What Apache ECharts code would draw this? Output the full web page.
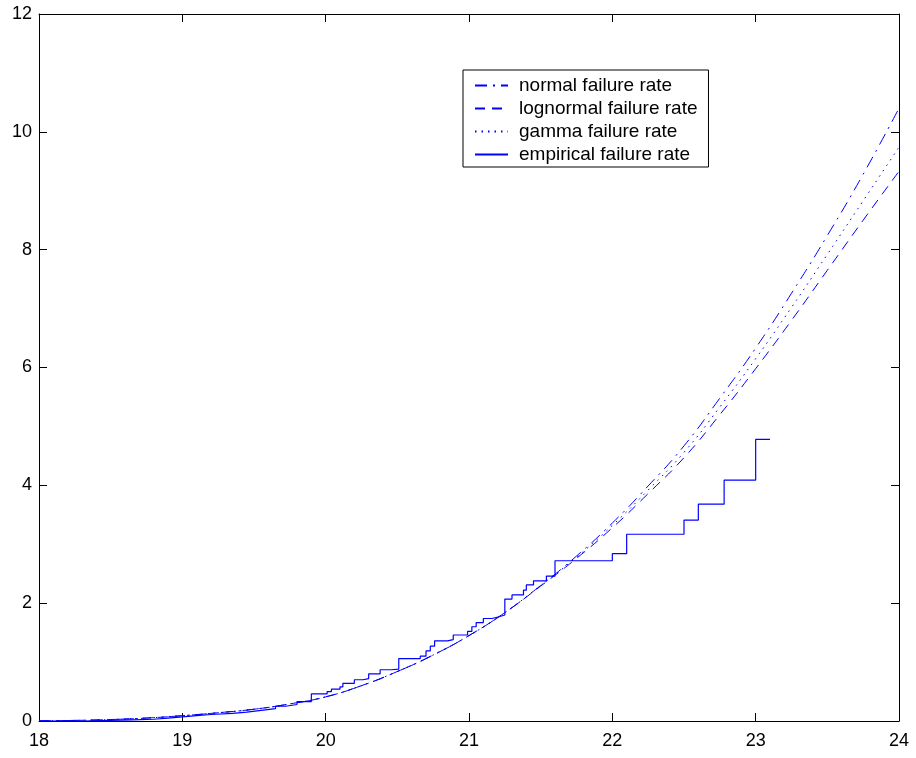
<!DOCTYPE html>
<html>
<head>
<meta charset="utf-8">
<script src="https://cdn.jsdelivr.net/npm/echarts@6/dist/echarts.min.js"></script>
<style>
html,body{margin:0;padding:0;background:#fff;}
#chart{width:916px;height:758px;}
</style>
</head>
<body>
<div id="chart"></div>
<script>
// Smooth fitted hazard curves
const curveX = [18, 18.25, 18.5, 18.75, 19, 19.25, 19.5, 19.75, 20, 20.25, 20.5, 20.75, 21, 21.25, 21.5, 21.75, 22, 22.25, 22.5, 22.75, 23, 23.25, 23.5, 23.75, 24];
const normalRate = [0.003, 0.01, 0.025, 0.05, 0.09, 0.14, 0.20, 0.29, 0.41, 0.60, 0.84, 1.12, 1.45, 1.84, 2.30, 2.80, 3.36, 3.99, 4.67, 5.48, 6.33, 7.26, 8.24, 9.28, 10.4];
const lognormalRate = [0.003, 0.01, 0.025, 0.05, 0.09, 0.14, 0.20, 0.29, 0.41, 0.60, 0.84, 1.12, 1.45, 1.84, 2.29, 2.76, 3.28, 3.86, 4.47, 5.20, 5.98, 6.80, 7.65, 8.50, 9.33];
const gammaRate = [0.003, 0.01, 0.025, 0.05, 0.09, 0.14, 0.20, 0.29, 0.41, 0.60, 0.84, 1.12, 1.45, 1.84, 2.30, 2.78, 3.32, 3.92, 4.56, 5.33, 6.15, 7.02, 7.92, 8.83, 9.74];

// Empirical failure rate: step start positions and levels
const empX = [18.00, 18.30, 18.50, 18.65, 18.80, 18.90, 19.00, 19.10, 19.20, 19.35, 19.45, 19.55, 19.65, 19.72, 19.80, 19.90, 20.01, 20.04, 20.10, 20.12, 20.20, 20.26, 20.30, 20.38, 20.46, 20.51, 20.66, 20.70, 20.73, 20.76, 20.85, 20.89, 20.99, 21.02, 21.05, 21.10, 21.16, 21.21, 21.25, 21.30, 21.38, 21.40, 21.45, 21.54, 21.60, 22.00, 22.10, 22.50, 22.60, 22.78, 23.00, 23.10];
const empY = [0.00, 0.01, 0.02, 0.03, 0.05, 0.07, 0.09, 0.11, 0.13, 0.15, 0.18, 0.21, 0.25, 0.28, 0.33, 0.46, 0.50, 0.54, 0.58, 0.64, 0.70, 0.72, 0.80, 0.87, 0.88, 1.06, 1.10, 1.19, 1.27, 1.36, 1.38, 1.46, 1.52, 1.60, 1.67, 1.74, 1.77, 1.80, 2.07, 2.14, 2.22, 2.31, 2.38, 2.46, 2.72, 2.84, 3.17, 3.41, 3.68, 4.09, 4.78, 4.78];

const xTicks = [18, 19, 20, 21, 22, 23, 24];
const yTicks = [0, 2, 4, 6, 8, 10, 12];

const seriesNames = ['normal failure rate', 'lognormal failure rate', 'gamma failure rate', 'empirical failure rate'];

function pairs(xs, ys) { return xs.map((x, i) => [x, ys[i]]); }

const FONT = '"Liberation Sans", Arial, Helvetica, sans-serif';
const BLUE = '#0000ff';

const chart = echarts.init(document.getElementById('chart'), null, {renderer: 'canvas'});

const axisCommon = {
  type: 'value',
  axisLine: {show: true, onZero: false, lineStyle: {color: '#000', width: 1}},
  axisTick: {show: true, inside: true, length: 8, lineStyle: {color: '#000', width: 1}},
  splitLine: {show: false},
};

chart.setOption({
  animation: false,
  backgroundColor: '#fff',
  grid: {left: 39, right: 17, top: 14, bottom: 37, containLabel: false},
  xAxis: [
    Object.assign({}, axisCommon, {
      position: 'bottom', min: xTicks[0], max: xTicks[xTicks.length - 1], interval: 1,
      axisLabel: {show: true, color: '#000', fontSize: 18, fontFamily: FONT, margin: 11}
    }),
    Object.assign({}, axisCommon, {
      position: 'top', min: xTicks[0], max: xTicks[xTicks.length - 1], interval: 1,
      axisLabel: {show: false}
    })
  ],
  yAxis: [
    Object.assign({}, axisCommon, {
      position: 'left', min: yTicks[0], max: yTicks[yTicks.length - 1], interval: 2,
      axisLabel: {show: true, color: '#000', fontSize: 18, fontFamily: FONT, margin: 7}
    }),
    Object.assign({}, axisCommon, {
      position: 'right', min: yTicks[0], max: yTicks[yTicks.length - 1], interval: 2,
      axisLabel: {show: false}
    })
  ],
  legend: {
    orient: 'vertical',
    left: 463, top: 70,
    padding: [6, 11, 3, 11],
    itemGap: 4,
    itemWidth: 33, itemHeight: 14,
    backgroundColor: '#fff',
    borderColor: '#000', borderWidth: 1, borderRadius: 0,
    itemStyle: {opacity: 0},
    textStyle: {color: '#000', fontSize: 19, fontFamily: FONT, lineHeight: 18, padding: [0, 0, 0, 6]},
    data: seriesNames
  },
  series: [
    {
      name: seriesNames[0], type: 'line', data: pairs(curveX, normalRate), smooth: true,
      symbol: 'none', lineStyle: {color: BLUE, width: 1, type: [12, 6, 2, 6]}, itemStyle: {color: BLUE}, z: 3
    },
    {
      name: seriesNames[1], type: 'line', data: pairs(curveX, lognormalRate), smooth: true,
      symbol: 'none', lineStyle: {color: BLUE, width: 1, type: [10, 7]}, itemStyle: {color: BLUE}, z: 3
    },
    {
      name: seriesNames[2], type: 'line', data: pairs(curveX, gammaRate), smooth: true,
      symbol: 'none', lineStyle: {color: BLUE, width: 1, type: [1.5, 5]}, itemStyle: {color: BLUE}, z: 3
    },
    {
      name: seriesNames[3], type: 'line', data: pairs(empX, empY), step: 'end',
      symbol: 'none', lineStyle: {color: BLUE, width: 1.2, type: 'solid'}, itemStyle: {color: BLUE}, z: 4
    }
  ]
});
</script>
</body>
</html>
